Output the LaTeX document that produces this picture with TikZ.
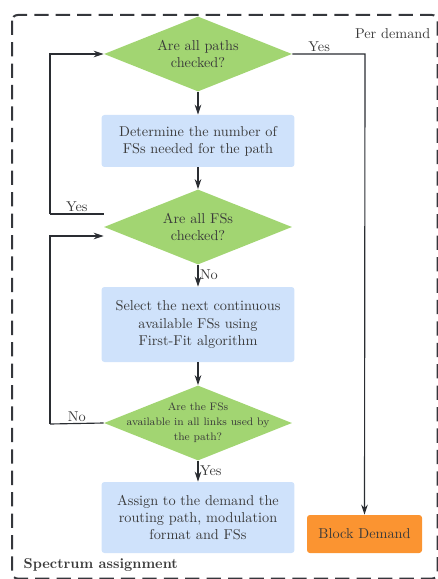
\documentclass[tikz,border=0pt]{standalone}
\usetikzlibrary{shapes.geometric,arrows.meta,calc}
\definecolor{decide}{HTML}{A2D572}
\definecolor{procbox}{HTML}{CFE2FB}
\definecolor{blockbox}{HTML}{FB9431}
\definecolor{ink}{HTML}{3A3A3A}
\definecolor{wire}{HTML}{2A2D32}
\begin{document}
\begin{tikzpicture}[x=0.7pt,y=-0.7pt,
  decision/.style={diamond,fill=decide,draw=none,inner sep=0pt,
    minimum width=131.6pt,minimum height=52.5pt},
  procstep/.style={rectangle,rounded corners=2pt,fill=procbox,draw=none,
    minimum width=135pt,align=center,text=ink,inner sep=0pt},
  blockstep/.style={rectangle,rounded corners=2pt,fill=blockbox,draw=none,
    minimum width=80.5pt,minimum height=26.6pt,align=center,text=ink,inner sep=0pt},
  flow/.style={draw=wire,line width=0.8pt,-{Stealth[length=7pt,width=4.6pt]}},
  wirel/.style={draw=wire,line width=0.8pt},
  tag/.style={text=ink,inner sep=1pt},
  qtext/.style={align=center,text=ink}
]
\useasboundingbox (0,0) rectangle (438,579);

% outer dashed frame
\draw[draw=wire!95,line width=1.4pt,dash pattern=on 10pt off 5pt,rounded corners=4pt]
  (12,15) rectangle (437.6,578.6);
\node[tag,anchor=east] (perdem) at (432,34) {Per demand};
\node[tag,anchor=west,font=\bfseries] (spec) at (22,565) {Spectrum assignment};

% decisions and steps
\node[decision,label={[qtext]center:Are all paths\\checked?}] (d1) at (198,54) {};
\node[procstep,minimum height=36.4pt] (b1) at (198,141)
  {Determine the number of\\FSs needed for the path};
\node[decision,label={[qtext]center:Are all FSs\\checked?}] (d2) at (198,227) {};
\node[procstep,minimum height=52.5pt] (b2) at (198,324.5)
  {Select the next continuous\\available FSs using\\First-Fit algorithm};
\node[decision,label={[qtext,font=\fontsize{7.6}{10.5}\selectfont]center:Are the FSs\\available in all links used by\\the path?}] (d3) at (198,423) {};
\node[procstep,minimum height=49.7pt] (b3) at (198,517.5)
  {Assign to the demand the\\routing path, modulation\\format and FSs};
\node[blockstep] (blk) at (364.5,534) {Block Demand};

% main flow
\draw[flow] (d1.south) -- (b1.north);
\draw[flow] (b1.south) -- (d2.north);
\draw[flow] (d2.south) -- node[tag,right,pos=0.45] {No} (b2.north);
\draw[flow] (b2.south) -- (d3.north);
\draw[flow] (d3.south) -- node[tag,right,pos=0.45] {Yes} (b3.north);

% all paths checked -> block
\coordinate (yr) at (365,54);
\draw[flow] (d1.east) -- node[tag,above,pos=0.37] {Yes} (yr) -- (blk.north);

% all FSs checked -> next path
\coordinate (ys) at ($(d2.west)+(0,-13)$);
\coordinate (yl) at (50,214);
\coordinate (yt) at (50,54);
\draw[wirel] (ys) -- node[tag,above,pos=0.5] {Yes} (yl);
\draw[flow] (yl) -- (yt) -- (d1.west);

% FSs not available -> next FSs
\coordinate (nl) at (50,424);
\coordinate (nt) at (50,236);
\draw[wirel] (d3.west) -- node[tag,above,pos=0.5] {No} (nl);
\draw[flow] (nl) -- (nt) -- ($(d2.west)+(0,9)$);
\end{tikzpicture}
\end{document}
